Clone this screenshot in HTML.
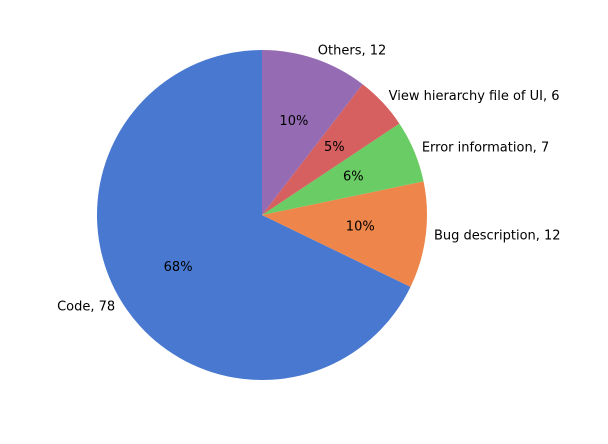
<!DOCTYPE html>
<html><head><meta charset="utf-8"><style>
body{margin:0;background:#fff}
svg text{font-family:"DejaVu Sans","Liberation Sans",sans-serif;font-size:13px;fill:#000}
</style></head><body>
<svg id="chart" width="608" height="439" viewBox="0 0 608 439"></svg>
<script>
const categories=["Code","Bug description","Error information","View hierarchy file of UI","Others"];
const values=[78,12,7,6,12];
const colors=["#4878cf","#ee854a","#6acc64","#d65f5f","#956cb4"];
const svg=document.getElementById('chart');
const NS="http://www.w3.org/2000/svg";
const cx=262,cy=215,r=165;
const total=values.reduce((a,b)=>a+b,0);
function pt(deg,rad){const a=deg*Math.PI/180;return [cx+rad*Math.cos(a),cy-rad*Math.sin(a)];}
let start=90;
values.forEach((v,i)=>{
  const sweep=v/total*360,end=start+sweep;
  const [x1,y1]=pt(start,r),[x2,y2]=pt(end,r);
  const p=document.createElementNS(NS,'path');
  p.setAttribute('d',`M${cx},${cy} L${x1},${y1} A${r},${r} 0 ${sweep>180?1:0} 0 ${x2},${y2} Z`);
  p.setAttribute('fill',colors[i]);
  
  
  svg.appendChild(p);
  const mid=start+sweep/2;
  const [lx,ly]=pt(mid,r*1.05);
  const t=document.createElementNS(NS,'text');
  t.setAttribute('x',lx);t.setAttribute('y',ly);
  t.setAttribute('dominant-baseline','central');
  t.setAttribute('text-anchor',Math.cos(mid*Math.PI/180)<0?'end':'start');
  t.textContent=categories[i]+', '+v;
  
  
  svg.appendChild(t);
  const [px,py]=pt(mid,r*0.6);
  const q=document.createElementNS(NS,'text');
  q.setAttribute('x',px);q.setAttribute('y',py);
  q.setAttribute('dominant-baseline','central');
  q.setAttribute('text-anchor','middle');
  q.textContent=Math.round(v/total*100)+'%';
  
  
  svg.appendChild(q);
  start=end;
});
</script>
</body></html>
